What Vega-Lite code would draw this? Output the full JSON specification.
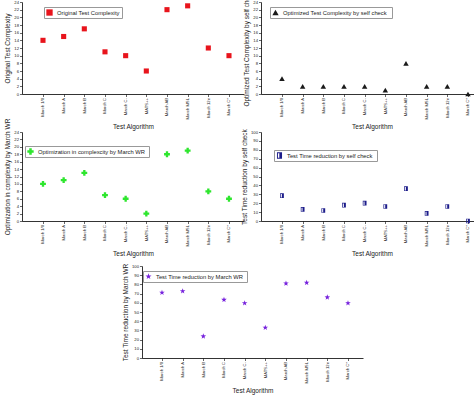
{
  "$schema": "https://vega.github.io/schema/vega-lite/v6.json",
  "padding": {"left": 4, "top": -12, "right": 0, "bottom": 0},
  "background": "white",
  "data": {"values": [
    {"panel": "A", "alg": "March 1/0", "value": 14}, {"panel": "A", "alg": "March A", "value": 15}, {"panel": "A", "alg": "March B", "value": 17}, {"panel": "A", "alg": "March C", "value": 11}, {"panel": "A", "alg": "March C-", "value": 10}, {"panel": "A", "alg": "MATS++", "value": 6}, {"panel": "A", "alg": "March AB", "value": 22}, {"panel": "A", "alg": "March MSL", "value": 23}, {"panel": "A", "alg": "March 12n", "value": 12}, {"panel": "A", "alg": "March C*", "value": 10},
    {"panel": "B", "alg": "March 1/0", "value": 4}, {"panel": "B", "alg": "March A", "value": 2}, {"panel": "B", "alg": "March B", "value": 2}, {"panel": "B", "alg": "March C", "value": 2}, {"panel": "B", "alg": "March C-", "value": 2}, {"panel": "B", "alg": "MATS++", "value": 1}, {"panel": "B", "alg": "March AB", "value": 8}, {"panel": "B", "alg": "March MSL", "value": 2}, {"panel": "B", "alg": "March 12n", "value": 2}, {"panel": "B", "alg": "March C*", "value": 0},
    {"panel": "C", "alg": "March 1/0", "value": 10}, {"panel": "C", "alg": "March A", "value": 11}, {"panel": "C", "alg": "March B", "value": 13}, {"panel": "C", "alg": "March C", "value": 7}, {"panel": "C", "alg": "March C-", "value": 6}, {"panel": "C", "alg": "MATS++", "value": 2}, {"panel": "C", "alg": "March AB", "value": 18}, {"panel": "C", "alg": "March MSL", "value": 19}, {"panel": "C", "alg": "March 12n", "value": 8}, {"panel": "C", "alg": "March C*", "value": 6},
    {"panel": "D", "alg": "March 1/0", "value": 28.5}, {"panel": "D", "alg": "March A", "value": 13}, {"panel": "D", "alg": "March B", "value": 11.8}, {"panel": "D", "alg": "March C", "value": 17.8}, {"panel": "D", "alg": "March C-", "value": 20}, {"panel": "D", "alg": "MATS++", "value": 16.3}, {"panel": "D", "alg": "March AB", "value": 36.3}, {"panel": "D", "alg": "March MSL", "value": 8.5}, {"panel": "D", "alg": "March 12n", "value": 16.3}, {"panel": "D", "alg": "March C*", "value": 0},
    {"panel": "E", "alg": "March 1/0", "value": 71}, {"panel": "E", "alg": "March A", "value": 72.7}, {"panel": "E", "alg": "March B", "value": 23.6}, {"panel": "E", "alg": "March C", "value": 63.3}, {"panel": "E", "alg": "March C-", "value": 59.6}, {"panel": "E", "alg": "MATS++", "value": 33}, {"panel": "E", "alg": "March AB", "value": 81}, {"panel": "E", "alg": "March MSL", "value": 81.8}, {"panel": "E", "alg": "March 12n", "value": 66}, {"panel": "E", "alg": "March C*", "value": 59.6}
  ]},
  "vconcat": [
    {
      "vconcat": [
        {
          "hconcat": [
            {
              "width": 222, "height": 92,
              "transform": [{"filter": "datum.panel === 'A'"}],
              "mark": {"type": "point", "filled": true, "size": 26, "opacity": 1},
              "encoding": {
                "x": {"field": "alg", "type": "nominal", "title": "Test Algorithm",
                      "scale": {"type": "point", "padding": 0.871, "align": 0.583, "domain": ["March 1/0", "March A", "March B", "March C", "March C-", "MATS++", "March AB", "March MSL", "March 12n", "March C*"]}},
                "y": {"field": "value", "type": "quantitative", "title": "Original Test Complexity",
                      "scale": {"domain": [0, 24], "nice": false}, "axis": {"values": [0, 2, 4, 6, 8, 10, 12, 14, 16, 18, 20, 22, 24]}},
                "color": {"datum": "Original Test Complexity", "scale": {"range": ["#e8141c"]},
                          "legend": {"orient": "none", "legendX": 22, "legendY": 5}},
                "shape": {"datum": "Original Test Complexity", "scale": {"range": ["square"]}}
              }
            },
            {
              "width": 222, "height": 92,
              "transform": [{"filter": "datum.panel === 'B'"}],
              "mark": {"type": "point", "filled": true, "size": 30, "opacity": 1},
              "encoding": {
                "x": {"field": "alg", "type": "nominal", "title": "Test Algorithm",
                      "scale": {"type": "point", "padding": 0.871, "align": 0.583, "domain": ["March 1/0", "March A", "March B", "March C", "March C-", "MATS++", "March AB", "March MSL", "March 12n", "March C*"]}},
                "y": {"field": "value", "type": "quantitative", "title": "Optimized Test Complexity  by  self check",
                      "scale": {"domain": [0, 24], "nice": false}, "axis": {"values": [0, 2, 4, 6, 8, 10, 12, 14, 16, 18, 20, 22, 24]}},
                "color": {"datum": "Optimized Test Complexity  by  self check", "scale": {"range": ["#1a1a1a"]},
                          "legend": {"orient": "none", "legendX": 9, "legendY": 5}},
                "shape": {"datum": "Optimized Test Complexity  by  self check", "scale": {"range": ["triangle-up"]}}
              }
            }
          ],
          "spacing": 17,
          "bounds": "flush",
          "resolve": {"scale": {"color": "independent", "shape": "independent", "x": "independent", "y": "independent"}, "legend": {"color": "independent", "shape": "independent"}}
        },
        {
          "hconcat": [
            {
              "width": 222, "height": 89,
              "transform": [{"filter": "datum.panel === 'C'"}],
              "mark": {"type": "point", "filled": true, "size": 34, "opacity": 1},
              "encoding": {
                "x": {"field": "alg", "type": "nominal", "title": "Test Algorithm",
                      "scale": {"type": "point", "padding": 0.871, "align": 0.583, "domain": ["March 1/0", "March A", "March B", "March C", "March C-", "MATS++", "March AB", "March MSL", "March 12n", "March C*"]}},
                "y": {"field": "value", "type": "quantitative", "title": "Optimization in complexity by  March WR",
                      "scale": {"domain": [0, 24], "nice": false}, "axis": {"values": [0, 2, 4, 6, 8, 10, 12, 14, 16, 18, 20, 22, 24]}},
                "color": {"datum": "Optimization in complexcity by  March WR", "scale": {"range": ["#2ee62e"]},
                          "legend": {"orient": "none", "legendX": 3, "legendY": 14}},
                "shape": {"datum": "Optimization in complexcity by  March WR", "scale": {"range": ["cross"]}}
              }
            },
            {
              "width": 222, "height": 89,
              "transform": [{"filter": "datum.panel === 'D'"}],
              "mark": {"type": "point", "filled": true, "size": 22, "opacity": 1},
              "encoding": {
                "x": {"field": "alg", "type": "nominal", "title": "Test Algorithm",
                      "scale": {"type": "point", "padding": 0.871, "align": 0.583, "domain": ["March 1/0", "March A", "March B", "March C", "March C-", "MATS++", "March AB", "March MSL", "March 12n", "March C*"]}},
                "y": {"field": "value", "type": "quantitative", "title": "Test Time reduction by  self check",
                      "scale": {"domain": [0, 100], "nice": false}, "axis": {"values": [0, 10, 20, 30, 40, 50, 60, 70, 80, 90, 100]}},
                "color": {"datum": "Test Time reduction by  self check", "scale": {"range": ["#1c1c8a"]},
                          "legend": {"orient": "none", "legendX": 13, "legendY": 18}},
                "shape": {"datum": "Test Time reduction by  self check", "scale": {"range": ["M-0.8,-1H0.8V1H-0.8Z M-0.5,-0.75V0.75H0.55V-0.75Z M-0.05,-0.75H0.55V0.75H-0.05Z"]}}
              }
            }
          ],
          "spacing": 17,
          "bounds": "flush",
          "resolve": {"scale": {"color": "independent", "shape": "independent", "x": "independent", "y": "independent"}, "legend": {"color": "independent", "shape": "independent"}}
        }
      ],
      "spacing": -14,
      "resolve": {"scale": {"color": "independent", "shape": "independent", "x": "independent", "y": "independent"}, "legend": {"color": "independent", "shape": "independent"}}
    },
    {
      "width": 221, "height": 92,
      "transform": [{"filter": "datum.panel === 'E'"}],
      "mark": {"type": "point", "filled": true, "size": 34, "opacity": 1},
      "encoding": {
        "x": {"field": "alg", "type": "nominal", "title": "Test Algorithm",
              "scale": {"type": "point", "padding": 0.847, "align": 0.571, "domain": ["March 1/0", "March A", "March B", "March C", "March C-", "MATS++", "March AB", "March MSL", "March 12n", "March C*"]}},
        "y": {"field": "value", "type": "quantitative", "title": "Test Time reduction by  March WR",
              "scale": {"domain": [0, 100], "nice": false}, "axis": {"values": [0, 10, 20, 30, 40, 50, 60, 70, 80, 90, 100]}},
        "color": {"datum": "Test Time reduction by  March WR", "scale": {"range": ["#7722dd"]},
                  "legend": {"orient": "none", "legendX": 1, "legendY": 5}},
        "shape": {"datum": "Test Time reduction by  March WR", "scale": {"range": ["M0,-1L0.235,-0.324L0.951,-0.309L0.38,0.124L0.588,0.809L0,0.4L-0.588,0.809L-0.38,0.124L-0.951,-0.309L-0.235,-0.324Z"]}}
      }
    }
  ],
  "spacing": 4,
  "center": true,
  "resolve": {"scale": {"color": "independent", "shape": "independent", "x": "independent", "y": "independent"}, "legend": {"color": "independent", "shape": "independent"}},
  "config": {
    "font": "Liberation Sans",
    "view": {"stroke": null},
    "axis": {"grid": false, "domainColor": "#000", "domainWidth": 0.8, "tickColor": "#000", "tickWidth": 0.6, "tickSize": 2.5,
             "labelFontSize": 4.2, "labelColor": "#222", "labelPadding": 1,
             "titleFontSize": 6.5, "titleFontWeight": "normal", "titleColor": "#222", "titlePadding": 3},
    "axisX": {"labelAngle": 270, "titlePadding": 5},
    "legend": {"title": null, "strokeColor": "#999", "fillColor": "white", "padding": 2, "labelFontSize": 5.8, "labelColor": "#222", "symbolSize": 40, "symbolStrokeWidth": 0, "labelLimit": 300, "symbolOpacity": 1}
  }
}
